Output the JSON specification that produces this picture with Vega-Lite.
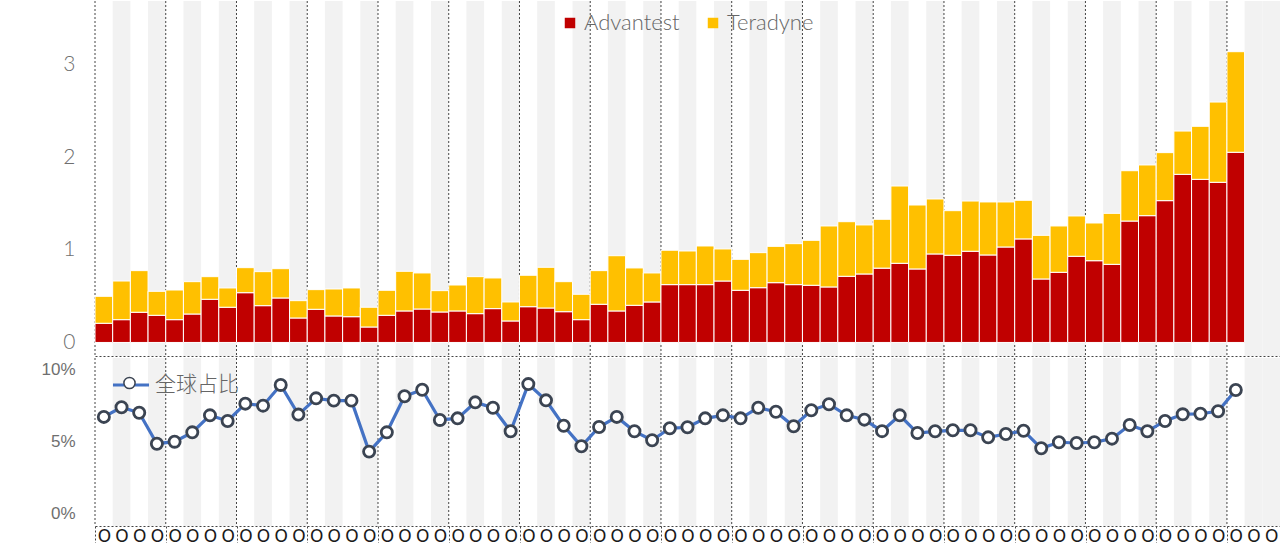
{
  "$schema": "https://vega.github.io/schema/vega-lite/v6.json",
  "padding": {"left": 35, "top": 0, "right": 0, "bottom": 0},
  "spacing": 0,
  "background": "white",
  "config": {
    "view": {"stroke": null},
    "font": "Lato",
    "axis": {"title": null}
  },
  "data": {
    "values": [
      {"q": 1, "Advantest": 0.207, "Teradyne": 0.291, "share": 6.72},
      {"q": 2, "Advantest": 0.246, "Teradyne": 0.417, "share": 7.39},
      {"q": 3, "Advantest": 0.326, "Teradyne": 0.449, "share": 7.01},
      {"q": 4, "Advantest": 0.293, "Teradyne": 0.259, "share": 4.86},
      {"q": 5, "Advantest": 0.246, "Teradyne": 0.320, "share": 5.0},
      {"q": 6, "Advantest": 0.307, "Teradyne": 0.349, "share": 5.65},
      {"q": 7, "Advantest": 0.466, "Teradyne": 0.244, "share": 6.83},
      {"q": 8, "Advantest": 0.380, "Teradyne": 0.208, "share": 6.44},
      {"q": 9, "Advantest": 0.537, "Teradyne": 0.270, "share": 7.64},
      {"q": 10, "Advantest": 0.397, "Teradyne": 0.367, "share": 7.5},
      {"q": 11, "Advantest": 0.480, "Teradyne": 0.316, "share": 8.94},
      {"q": 12, "Advantest": 0.264, "Teradyne": 0.187, "share": 6.88},
      {"q": 13, "Advantest": 0.358, "Teradyne": 0.212, "share": 8.01},
      {"q": 14, "Advantest": 0.286, "Teradyne": 0.291, "share": 7.85},
      {"q": 15, "Advantest": 0.278, "Teradyne": 0.310, "share": 7.85},
      {"q": 16, "Advantest": 0.167, "Teradyne": 0.213, "share": 4.31},
      {"q": 17, "Advantest": 0.293, "Teradyne": 0.270, "share": 5.65},
      {"q": 18, "Advantest": 0.340, "Teradyne": 0.428, "share": 8.15},
      {"q": 19, "Advantest": 0.361, "Teradyne": 0.389, "share": 8.61},
      {"q": 20, "Advantest": 0.329, "Teradyne": 0.230, "share": 6.51},
      {"q": 21, "Advantest": 0.340, "Teradyne": 0.280, "share": 6.62},
      {"q": 22, "Advantest": 0.311, "Teradyne": 0.399, "share": 7.73},
      {"q": 23, "Advantest": 0.365, "Teradyne": 0.331, "share": 7.36},
      {"q": 24, "Advantest": 0.232, "Teradyne": 0.205, "share": 5.72},
      {"q": 25, "Advantest": 0.386, "Teradyne": 0.339, "share": 9.0},
      {"q": 26, "Advantest": 0.372, "Teradyne": 0.439, "share": 7.87},
      {"q": 27, "Advantest": 0.332, "Teradyne": 0.324, "share": 6.11},
      {"q": 28, "Advantest": 0.246, "Teradyne": 0.274, "share": 4.68},
      {"q": 29, "Advantest": 0.412, "Teradyne": 0.363, "share": 6.02},
      {"q": 30, "Advantest": 0.340, "Teradyne": 0.596, "share": 6.72},
      {"q": 31, "Advantest": 0.401, "Teradyne": 0.403, "share": 5.72},
      {"q": 32, "Advantest": 0.437, "Teradyne": 0.313, "share": 5.1},
      {"q": 33, "Advantest": 0.624, "Teradyne": 0.371, "share": 5.93},
      {"q": 34, "Advantest": 0.624, "Teradyne": 0.363, "share": 6.0},
      {"q": 35, "Advantest": 0.624, "Teradyne": 0.417, "share": 6.62},
      {"q": 36, "Advantest": 0.663, "Teradyne": 0.346, "share": 6.83},
      {"q": 37, "Advantest": 0.563, "Teradyne": 0.334, "share": 6.62},
      {"q": 38, "Advantest": 0.591, "Teradyne": 0.378, "share": 7.36},
      {"q": 39, "Advantest": 0.645, "Teradyne": 0.392, "share": 7.08},
      {"q": 40, "Advantest": 0.624, "Teradyne": 0.442, "share": 6.07},
      {"q": 41, "Advantest": 0.617, "Teradyne": 0.485, "share": 7.18},
      {"q": 42, "Advantest": 0.599, "Teradyne": 0.658, "share": 7.6},
      {"q": 43, "Advantest": 0.714, "Teradyne": 0.589, "share": 6.83},
      {"q": 44, "Advantest": 0.739, "Teradyne": 0.529, "share": 6.53},
      {"q": 45, "Advantest": 0.802, "Teradyne": 0.527, "share": 5.73},
      {"q": 46, "Advantest": 0.854, "Teradyne": 0.834, "share": 6.83},
      {"q": 47, "Advantest": 0.793, "Teradyne": 0.690, "share": 5.6},
      {"q": 48, "Advantest": 0.955, "Teradyne": 0.593, "share": 5.72},
      {"q": 49, "Advantest": 0.941, "Teradyne": 0.481, "share": 5.79},
      {"q": 50, "Advantest": 0.984, "Teradyne": 0.542, "share": 5.79},
      {"q": 51, "Advantest": 0.944, "Teradyne": 0.572, "share": 5.3},
      {"q": 52, "Advantest": 1.030, "Teradyne": 0.486, "share": 5.53},
      {"q": 53, "Advantest": 1.117, "Teradyne": 0.417, "share": 5.76},
      {"q": 54, "Advantest": 0.685, "Teradyne": 0.471, "share": 4.54},
      {"q": 55, "Advantest": 0.757, "Teradyne": 0.500, "share": 4.96},
      {"q": 56, "Advantest": 0.930, "Teradyne": 0.435, "share": 4.91},
      {"q": 57, "Advantest": 0.882, "Teradyne": 0.407, "share": 4.96},
      {"q": 58, "Advantest": 0.843, "Teradyne": 0.550, "share": 5.21},
      {"q": 59, "Advantest": 1.310, "Teradyne": 0.543, "share": 6.16},
      {"q": 60, "Advantest": 1.368, "Teradyne": 0.547, "share": 5.72},
      {"q": 61, "Advantest": 1.530, "Teradyne": 0.518, "share": 6.44},
      {"q": 62, "Advantest": 1.814, "Teradyne": 0.467, "share": 6.9},
      {"q": 63, "Advantest": 1.760, "Teradyne": 0.572, "share": 6.94},
      {"q": 64, "Advantest": 1.728, "Teradyne": 0.866, "share": 7.11},
      {"q": 65, "Advantest": 2.052, "Teradyne": 1.085, "share": 8.59},
      {"q": 66},
      {"q": 67},
      {"q": 68}
    ]
  },
  "vconcat": [
    {
      "width": 1185,
      "height": 355,
      "encoding": {
        "x": {
          "field": "q",
          "type": "ordinal",
          "scale": {"paddingInner": 0, "paddingOuter": 0},
          "axis": {
            "labels": false,
            "ticks": false,
            "grid": false,
            "domainDash": [2, 2],
            "domainColor": "#444444",
            "domainWidth": 1
          }
        }
      },
      "layer": [
        {
          "transform": [{"filter": "datum.q % 2 == 0"}],
          "mark": {"type": "bar", "color": "#f2f2f2"}
        },
        {
          "transform": [{"filter": "(datum.q - 1) % 4 == 0"}],
          "mark": {"type": "rule", "color": "#444444", "strokeDash": [2, 2], "strokeWidth": 1},
          "encoding": {
            "x": {"field": "q", "type": "ordinal", "bandPosition": 0}
          }
        },
        {
          "transform": [
            {"fold": ["Advantest", "Teradyne"], "as": ["company", "value"]},
            {"filter": "isValid(datum.value)"}
          ],
          "mark": {"type": "bar", "stroke": "white", "strokeWidth": 1},
          "encoding": {
            "y": {
              "field": "value",
              "type": "quantitative",
              "stack": true,
              "scale": {"domain": [-0.146, 3.684], "zero": false, "nice": false},
              "axis": {
                "values": [0, 1, 2, 3],
                "domain": false,
                "ticks": false,
                "grid": false,
                "labelFontSize": 21,
                "labelFontWeight": 300,
                "labelColor": "#6f6f6f",
                "labelPadding": 20,
                "minExtent": 60,
                "maxExtent": 60
              }
            },
            "order": {"field": "company", "sort": "ascending"},
            "color": {
              "field": "company",
              "type": "nominal",
              "scale": {"domain": ["Advantest", "Teradyne"], "range": ["#c00000", "#ffc000"]},
              "legend": {
                "orient": "none",
                "legendX": 464,
                "legendY": 11,
                "direction": "horizontal",
                "title": null,
                "padding": 0,
                "symbolType": "square",
                "symbolSize": 110,
                "symbolStrokeWidth": 0,
                "labelFontSize": 22,
                "labelFontWeight": 300,
                "labelColor": "#666666",
                "labelOffset": 3,
                "columnPadding": 22
              }
            }
          }
        }
      ]
    },
    {
      "width": 1185,
      "height": 168,
      "encoding": {
        "x": {
          "field": "q",
          "type": "ordinal",
          "scale": {"paddingInner": 0, "paddingOuter": 0},
          "axis": {
            "labelExpr": "'O'",
            "labelAngle": 0,
            "labelFontSize": 17,
            "labelFont": "DejaVu Sans",
            "labelColor": "#1a1a1a",
            "labelPadding": -18,
            "labelBaseline": "top",
            "labelOffset": 8.713,
            "tickOffset": -8.713,
            "grid": false,
            "domainDash": [2, 2],
            "domainColor": "#444444",
            "tickSize": 20,
            "tickDash": [2, 2],
            "tickColor": "#444444",
            "tickOpacity": {"condition": {"test": "(datum.value - 1) % 4 == 0", "value": 1}, "value": 0}
          }
        }
      },
      "layer": [
        {
          "transform": [{"filter": "datum.q % 2 == 0"}],
          "mark": {"type": "bar", "color": "#f2f2f2"}
        },
        {
          "transform": [{"filter": "(datum.q - 1) % 4 == 0"}],
          "mark": {"type": "rule", "color": "#444444", "strokeDash": [2, 2], "strokeWidth": 1},
          "encoding": {
            "x": {"field": "q", "type": "ordinal", "bandPosition": 0}
          }
        },
        {
          "transform": [{"filter": "isValid(datum.share)"}],
          "mark": {"type": "line", "strokeWidth": 3.2},
          "encoding": {
            "y": {
              "field": "share",
              "type": "quantitative",
              "scale": {"domain": [-0.854, 10.81], "zero": false, "nice": false},
              "axis": {
                "values": [0, 5, 10],
                "labelExpr": "datum.value + '%'",
                "domain": false,
                "ticks": false,
                "grid": false,
                "labelFont": "Liberation Sans",
                "labelFontSize": 17,
                "labelColor": "#6f6f6f",
                "labelPadding": 20,
                "minExtent": 60,
                "maxExtent": 60
              }
            },
            "stroke": {
              "datum": "全球占比",
              "type": "nominal",
              "scale": {"range": ["#4472c4"]},
              "legend": {
                "orient": "none",
                "legendX": 16,
                "legendY": 364,
                "title": null,
                "padding": 0,
                "zindex": 0,
                "symbolType": "stroke",
                "symbolSize": 1300,
                "symbolStrokeWidth": 3.2,
                "labelFont": "Noto Sans CJK SC",
                "labelFontWeight": 300,
                "labelFontSize": 21,
                "labelColor": "#666666",
                "labelOffset": 4
              }
            }
          }
        },
        {
          "transform": [{"filter": "isValid(datum.share)"}],
          "mark": {"type": "point", "filled": true, "fill": "white", "stroke": "#3b4452", "strokeWidth": 2.8, "size": 125, "opacity": 1},
          "encoding": {
            "y": {"field": "share", "type": "quantitative"},
            "shape": {
              "datum": "全球占比 ",
              "type": "nominal",
              "scale": {"range": ["circle"]},
              "legend": {
                "orient": "none",
                "legendX": 28,
                "legendY": 375.5,
                "title": null,
                "padding": 0,
                "zindex": 2,
                "symbolSize": 125,
                "labelFontSize": 8,
                "labelExpr": "''",
                "labelOpacity": 0,
                "encode": {
                  "symbols": {
                    "update": {
                      "fill": {"value": "white"},
                      "stroke": {"value": "#3b4452"},
                      "strokeWidth": {"value": 2.8},
                      "opacity": {"value": 1}
                    }
                  }
                }
              }
            }
          }
        }
      ]
    }
  ]
}
